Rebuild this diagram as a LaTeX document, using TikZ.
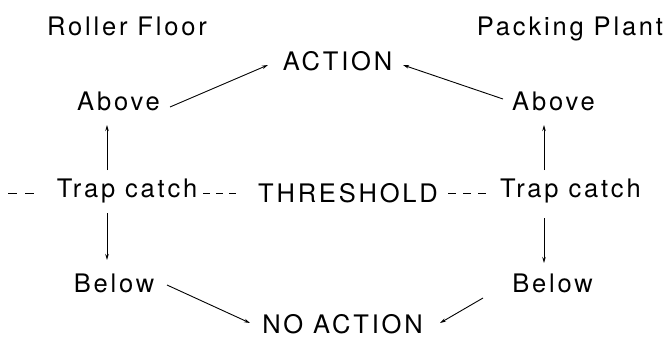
\documentclass[tikz,border=0pt]{standalone}
\usepackage{fontspec}
\setmainfont{TeX Gyre Heros}[LetterSpace=11]
\usetikzlibrary{calc,arrows.meta}
\begin{document}
\begin{tikzpicture}[x=1pt,y=-1pt,
  lbl/.style={inner sep=0pt,font=\fontsize{25.5}{30}\selectfont},
  arr/.style={line width=0.9pt,-{Stealth[length=6pt,width=3.5pt]}},
  dsh/.style={line width=0.9pt,dash pattern=on 7pt off 6pt}]
\useasboundingbox (0,0) rectangle (671,338);
\node[lbl,anchor=base] (roller) at (127,35) {Roller Floor};
\node[lbl,anchor=base] (packing) at (570,35) {Packing Plant};
\node[lbl,anchor=base] (action) at (337.5,70) {ACTION};
\node[lbl,anchor=base] (aboveL) at (118.5,110) {Above};
\node[lbl,anchor=base] (aboveR) at (553.5,110) {Above};
\node[lbl,anchor=base] (trapL) at (127,197) {Trap catch};
\node[lbl,anchor=base] (thr) at (348,202) {THRESHOLD};
\node[lbl,anchor=base west] (trapR) at (500,197) {Trap catch};
\node[lbl,anchor=base] (belowL) at (114,292) {Below};
\node[lbl,anchor=base] (belowR) at (552.5,292) {Below};
\node[lbl,anchor=base] (noaction) at (342.5,333) {NO ACTION};
\coordinate (leftend) at (8,193);
% arrows
\draw[arr] ($(aboveL.base)+(51.5,-3)$) -- ($(action.base)+(-69.5,-5)$);
\draw[arr] ($(aboveR.base)+(-50.5,-11)$) -- ($(action.base)+(65.5,-5)$);
\draw[arr] ($(trapL.base)+(-20,-27)$) -- ($(aboveL.base)+(-11.5,15)$);
\draw[arr] ($(trapL.base)+(-20,16)$) -- ($(belowL.base)+(-7,-32)$);
\draw[arr] ($(trapR.base west)+(44,-27)$) -- ($(aboveR.base)+(-9.5,15)$);
\draw[arr] ($(trapR.base west)+(44,21)$) -- ($(belowR.base)+(-8.5,-29)$);
\draw[arr] ($(belowL.base)+(53,-7)$) -- ($(noaction.base)+(-92.5,-10)$);
\draw[arr] ($(belowR.base)+(-69.5,6)$) -- ($(noaction.base)+(97.5,-10)$);
% dashed
\draw[dsh,dash pattern=on 9pt off 8pt] (leftend) -- ($(trapL.base)+(-92,-4)$);
\draw[dsh] ($(trapL.base)+(76,-4)$) -- ($(thr.base)+(-111,-9)$);
\draw[dsh,dash pattern=on 8pt off 7pt] ($(thr.base)+(100,-9)$) -- ($(trapR.base west)+(-13,-4)$);
\end{tikzpicture}
\end{document}
